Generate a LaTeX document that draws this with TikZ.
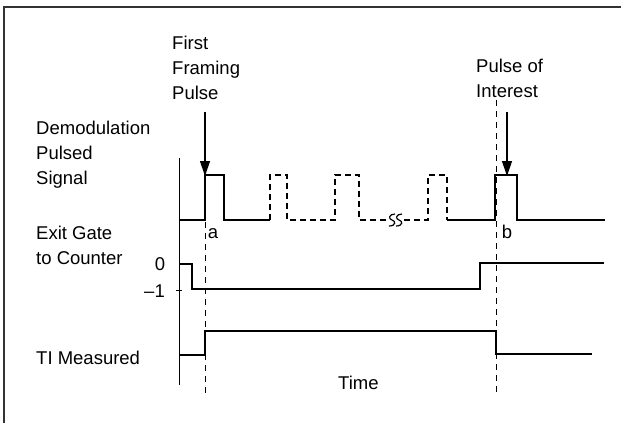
\documentclass[tikz,border=0pt]{standalone}
\usepackage{fontspec}
\setmainfont{Liberation Sans}
\usetikzlibrary{arrows.meta}
\begin{document}
\begin{tikzpicture}[x=1pt,y=-1pt,
  lbl/.style={inner sep=0pt, font=\fontsize{18.5}{25}\selectfont, align=left, anchor=base west},
  lblc/.style={inner sep=0pt, font=\fontsize{18.5}{25}\selectfont, anchor=base},
  sig/.style={line width=2.2pt, line join=miter},
  dsig/.style={sig, dash pattern=on 6pt off 4pt},
  guide/.style={line width=1pt, dash pattern=on 6pt off 5pt},
  axisline/.style={line width=1pt},
  squig/.style={line width=1.2pt},
  pointer/.style={line width=1.2pt, -{Triangle[length=15pt,width=10pt]}},
  frameline/.style={line width=1.5pt, black!80}]
\useasboundingbox (0,0) rectangle (621,423);
\draw[frameline] (4,423) -- (4,7) -- (621,7);

% labels (base = baseline of last line)
\node[lbl] (ffp) at (172,99.5) {First\\Framing\\Pulse};
\node[lbl] (poi) at (476,97.5) {Pulse of\\Interest};
\node[lbl] (demod) at (36,184.5) {Demodulation\\Pulsed\\Signal};
\node[lbl] (exit) at (36,264.5) {Exit Gate\\to Counter};
\node[lbl] (ti) at (36,364.5) {TI Measured};
\node[lbl] (time) at (338,389.5) {Time};
\node[lblc] (zero) at (160,270.5) {0};
\node[inner sep=0pt, font=\fontsize{18.5}{25}\selectfont, anchor=base east] (minus) at (165,297.5) {–1};
\node[lblc] (la) at (213,238) {a};
\node[lblc] (lb) at (507,238) {b};

% axis
\draw[axisline] (179,158) -- (179,385);
\draw[axisline] (176,290) -- (182,290);

% guides
\draw[guide] (205,222) -- (205,395);
\draw[guide] (496,100) -- (496,395);

% arrows
\coordinate (fpA) at (205,112);
\coordinate (fpB) at (205,176);
\coordinate (piA) at (507,112);
\coordinate (piB) at (507,176);
\draw[pointer] (fpA) -- (fpB);
\draw[pointer] (piA) -- (piB);

% demodulation signal
\draw[sig] (179,220) -- (205,220) -- (205,175) -- (224,175) -- (224,220) -- (270,220);
\draw[dsig] (270,220) -- (270,175) -- (287,175) -- (287,220) -- (335,220) -- (335,175) -- (359,175) -- (359,220) -- (386,220);
\draw[squig] (395,214) .. controls (389,214) and (388,219) .. (392,220) .. controls (396,221) and (396,226) .. (389,226);
\draw[squig] (402,214) .. controls (396,214) and (395,219) .. (399,220) .. controls (403,221) and (403,226) .. (396,226);
\draw[dsig] (404,220) -- (428,220) -- (428,175) -- (447,175) -- (447,220);
\draw[sig] (447,220) -- (495,220) -- (495,175) -- (517,175) -- (517,220) -- (605,220);

% exit gate
\draw[sig] (179,264) -- (192,264) -- (192,289) -- (480,289) -- (480,263) -- (604,263);

% TI measured
\draw[sig] (179,355) -- (205,355) -- (205,331) -- (496,331) -- (496,354) -- (592,354);
\end{tikzpicture}
\end{document}
